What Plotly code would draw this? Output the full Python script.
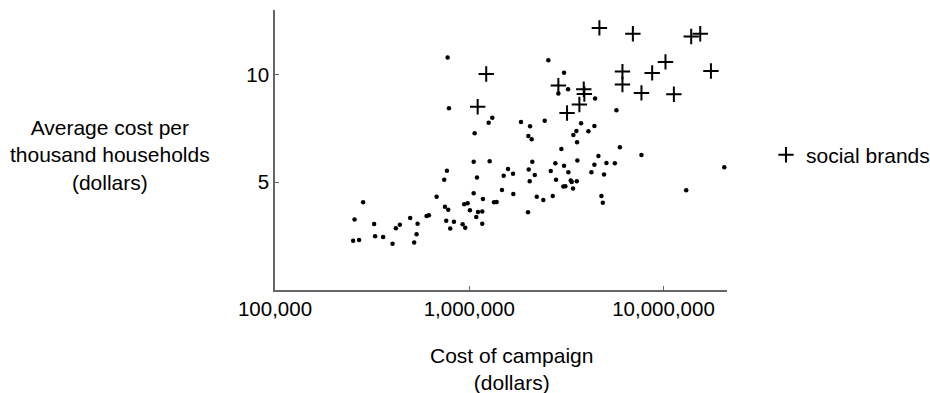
import plotly.graph_objects as go

# Regular brands: cost of campaign (dollars) and average cost per thousand households (dollars)
campaign_cost = [
    774000, 786000, 1066000, 1259000, 1314000, 1054000, 1274000, 767600, 743300, 1096000,
    679200, 1054000, 1176000, 1341000, 1384000, 284200, 749500, 779400, 942300, 981300,
    1008000, 1109000, 1167000, 603100, 619900, 1087000, 256700, 496600, 323800, 439300,
    542000, 761200, 834000, 924700, 1167000, 419000, 798000, 953700, 327700, 360300,
    535600, 252500, 271000, 402900, 520600, 1474000, 1504000, 1583000, 1680000, 1686000,
    2554000, 3077000, 3227000, 2876000, 4446000, 5725000, 1847000, 2447000, 2056000, 3765000,
    4409000, 3560000, 4107000, 3436000, 2015000, 2097000, 3591000, 2980000, 5962000, 4623000,
    7701000, 2112000, 2775000, 3603000, 5084000, 5617000, 4409000, 3077000, 2024000, 2628000,
    3238000, 4256000, 20560000, 2174000, 4946000, 2048000, 2799000, 3332000, 3372000, 3577000,
    3052000, 3125000, 3423000, 2226000, 2406000, 2692000, 4791000, 4871000, 13090000, 2007000,
]
cost_per_thousand = [
    10.79, 8.44, 7.28, 7.76, 8.00, 5.96, 5.98, 5.54, 5.12, 5.22,
    4.33, 4.49, 4.23, 4.07, 4.09, 4.07, 3.86, 3.73, 3.98, 4.03,
    3.70, 3.62, 3.64, 3.44, 3.47, 3.39, 3.27, 3.34, 3.07, 3.03,
    3.08, 3.22, 3.17, 3.05, 3.08, 2.87, 2.85, 2.89, 2.49, 2.46,
    2.59, 2.29, 2.32, 2.15, 2.20, 4.64, 5.31, 5.62, 5.40, 4.46,
    10.67, 10.09, 9.32, 9.12, 8.89, 8.35, 7.80, 7.86, 7.60, 7.74,
    7.62, 7.38, 7.37, 7.20, 7.15, 7.00, 6.86, 6.55, 6.63, 6.22,
    6.27, 5.95, 5.88, 6.01, 5.90, 5.88, 5.81, 5.77, 5.59, 5.53,
    5.47, 5.47, 5.70, 5.34, 5.36, 5.05, 5.12, 5.08, 5.02, 5.05,
    4.80, 4.82, 4.71, 4.33, 4.18, 4.37, 4.37, 4.05, 4.63, 3.61,
]

# Social brands
social_cost = [
    1223000, 1105000, 4678000, 6957000, 13890000, 15460000, 10240000, 6148000, 8745000,
    17550000, 2876000, 3887000, 3915000, 6148000, 7701000, 11310000, 3690000, 3188000,
]
social_cpt = [
    10.03, 8.51, 12.17, 11.90, 11.77, 11.90, 10.59, 10.14, 10.08,
    10.17, 9.49, 9.32, 9.10, 9.54, 9.15, 9.09, 8.61, 8.22,
]

x_tick_vals = [100000, 1000000, 10000000]
x_tick_text = ["100,000", "1,000,000", "10,000,000"]
y_tick_vals = [5, 10]
y_tick_text = ["5", "10"]

FONT = "Liberation Sans, Arial, sans-serif"

fig = go.Figure()
fig.add_trace(go.Scatter(
    x=campaign_cost, y=cost_per_thousand, mode="markers",
    marker=dict(size=4.5, color="black"), showlegend=False, name="brands",
))
fig.add_trace(go.Scatter(
    x=social_cost, y=social_cpt, mode="markers", name="social brands",
    marker=dict(symbol="cross-thin", size=11, color="black",
                line=dict(color="black", width=2)),
))

fig.update_layout(
    width=930, height=393,
    margin=dict(l=275, r=203, t=10, b=103, autoexpand=False),
    paper_bgcolor="white", plot_bgcolor="white",
    font=dict(family=FONT, size=20.5, color="black"),
    xaxis=dict(
        type="log", range=[5, 7.327], showgrid=False, zeroline=False,
        showline=True, linecolor="#666", linewidth=1.5,
        ticks="inside", ticklen=4, tickcolor="#666", tickwidth=1,
        tickvals=x_tick_vals, ticktext=x_tick_text,
        tickfont=dict(size=20.5),
    ),
    yaxis=dict(
        range=[0, 13], showgrid=False, zeroline=False,
        showline=True, linecolor="#666", linewidth=1.5,
        ticks="inside", ticklen=4, tickcolor="#666", tickwidth=1,
        tickvals=y_tick_vals, ticktext=y_tick_text,
        tickfont=dict(size=20.5),
    ),
    legend=dict(
        x=1.0863, y=0.482, xanchor="left", yanchor="middle",
        bgcolor="rgba(0,0,0,0)", borderwidth=0,
        font=dict(size=21),
    ),
    annotations=[
        dict(text="Average cost per<br>thousand households<br>(dollars)",
             xref="paper", yref="paper", x=-0.365, y=0.482,
             xanchor="center", yanchor="middle", showarrow=False,
             font=dict(size=21)),
        dict(text="Cost of campaign<br>(dollars)",
             xref="paper", yref="paper", x=0.524, y=-0.282,
             xanchor="center", yanchor="middle", showarrow=False,
             font=dict(size=21)),
    ],
)

fig.write_html("out.html")
